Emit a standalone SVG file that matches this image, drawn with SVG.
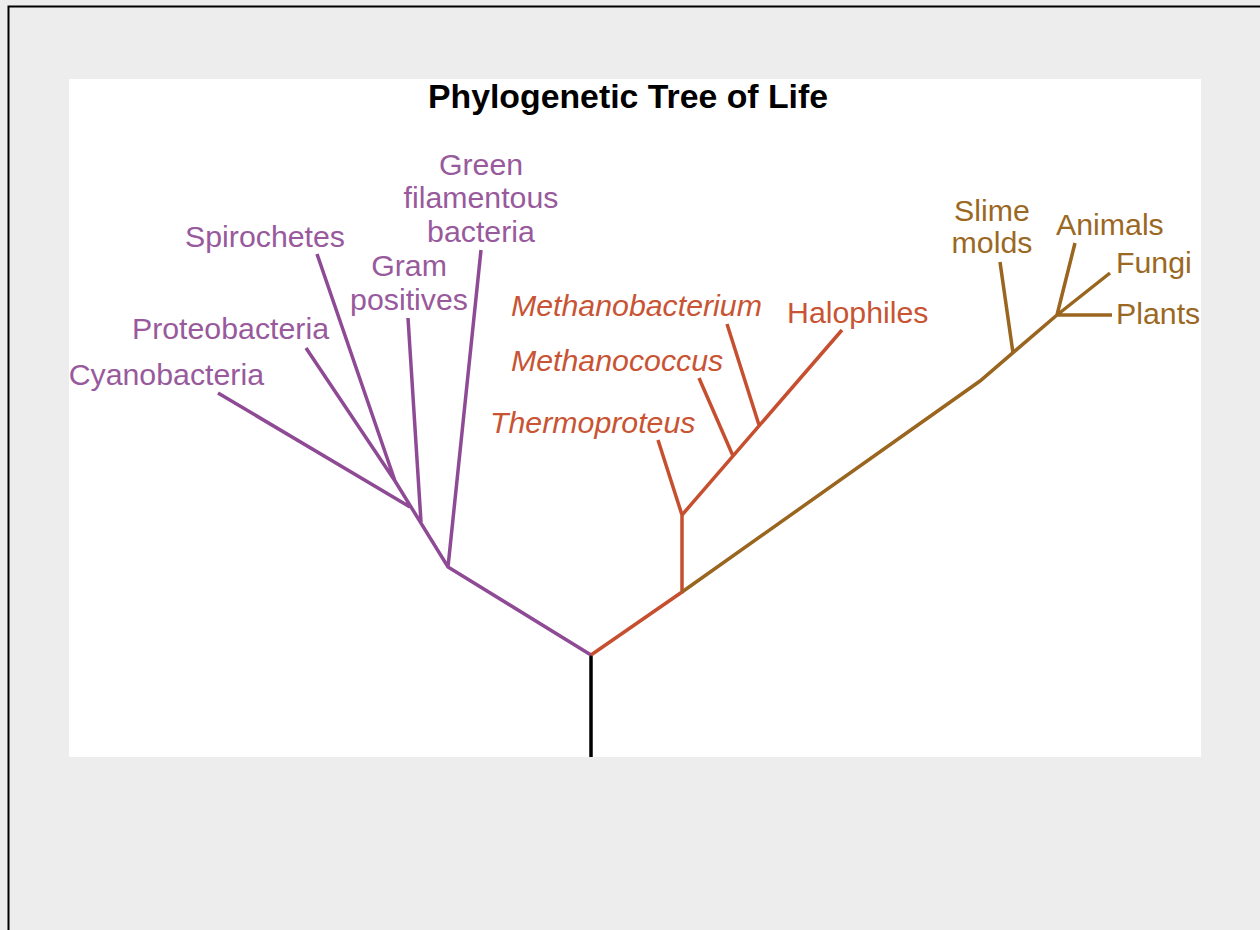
<svg xmlns="http://www.w3.org/2000/svg" width="1260" height="930" viewBox="0 0 1260 930">
<style>
.lbl{font-family:"Liberation Sans",Arial,sans-serif;font-size:30.3px}
.bac{fill:#985a9c}
.arc{fill:#c85434;font-style:italic}
.arc2{fill:#c85434}
.euk{fill:#9b6824}
.ln{fill:none;stroke-width:3.5;stroke-linecap:butt;stroke-linejoin:miter}
.pl{stroke:#8f4a95}
.rl{stroke:#c64f30}
.bl{stroke:#99651f}
</style>
<rect x="0" y="0" width="1260" height="930" fill="#ededed"/>
<path d="M8.5 930 V6.5 H1260" fill="none" stroke="#000" stroke-width="2"/>
<rect x="69" y="79" width="1132" height="678" fill="#fff"/>
<text x="628" y="108" text-anchor="middle" style="font-family:'Liberation Sans',Arial,sans-serif;font-size:33.8px;font-weight:bold" fill="#000">Phylogenetic Tree of Life</text>
<g id="connectors">
<path class="ln" d="M591 757 V655" stroke="#000"/>
<path class="ln pl" d="M591 655 L448 567 L395 481 M448 567 L481 250 M421 522 L408 318 M410 507 L218 393 M395 481 L306 348 M395 481 L317 254"/>
<path class="ln rl" d="M591 655 L682 592 V515 L842 330 M682 515 L658 440 M733 456 L699 378 M759 425 L727 324"/>
<path class="ln bl" d="M682 592 L980 381 L1057 315 M1013 353 L1000 262 M1057 315 L1075 243 M1057 315 L1110 273 M1057 315 H1112"/>
</g>
<g id="cyanobacteria"><text class="lbl bac" x="264" y="385" text-anchor="end">Cyanobacteria</text></g>
<g id="proteobacteria"><text class="lbl bac" x="329" y="339" text-anchor="end">Proteobacteria</text></g>
<g id="spirochetes"><text class="lbl bac" x="265" y="247" text-anchor="middle">Spirochetes</text></g>
<g id="gram-positives"><text class="lbl bac" x="409" y="276" text-anchor="middle">Gram</text><text class="lbl bac" x="409" y="310" text-anchor="middle">positives</text></g>
<g id="green-filamentous"><text class="lbl bac" x="481" y="175" text-anchor="middle">Green</text><text class="lbl bac" x="481" y="208" text-anchor="middle">filamentous</text><text class="lbl bac" x="481" y="242" text-anchor="middle">bacteria</text></g>
<g id="methanobacterium"><text class="lbl arc" x="511" y="316">Methanobacterium</text></g>
<g id="methanococcus"><text class="lbl arc" x="511" y="371">Methanococcus</text></g>
<g id="thermoproteus"><text class="lbl arc" x="490" y="433">Thermoproteus</text></g>
<g id="halophiles"><text class="lbl arc2" x="787" y="323">Halophiles</text></g>
<g id="slime-molds"><text class="lbl euk" x="992" y="221" text-anchor="middle">Slime</text><text class="lbl euk" x="992" y="253" text-anchor="middle">molds</text></g>
<g id="animals"><text class="lbl euk" x="1056" y="235">Animals</text></g>
<g id="fungi"><text class="lbl euk" x="1116" y="273">Fungi</text></g>
<g id="plants"><text class="lbl euk" x="1116" y="324">Plants</text></g>
</svg>
